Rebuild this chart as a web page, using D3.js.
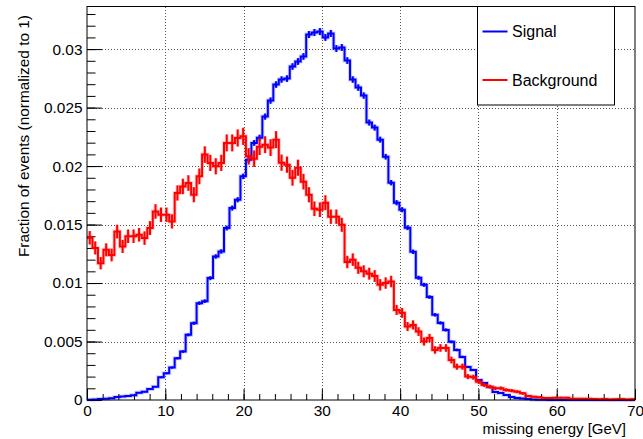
<!DOCTYPE html>
<html>
<head>
<meta charset="utf-8">
<script src="https://cdn.jsdelivr.net/npm/d3@7"></script>
<style>
  body { margin: 0; background: #fff; }
  svg { display: block; font-family: "Liberation Sans", Arial, Helvetica, sans-serif; }
</style>
</head>
<body>
<svg id="chart" width="643" height="439"></svg>
<script>
// histogram range (GeV) and bin count
const xRange = [0, 70];
const nBins = 100;

// bin contents, fraction of events per 0.7 GeV bin
const signal = [
  0.00003, 0.00005, 0.00008, 0.0001, 0.00015, 0.00025, 0.0003, 0.00034, 0.0004, 0.00062,
  0.0007, 0.00094, 0.00114, 0.00194, 0.00228, 0.00277, 0.00357, 0.00414, 0.00557, 0.00657,
  0.00828, 0.00845, 0.01042, 0.01227, 0.0127, 0.0147, 0.01641, 0.01712, 0.01912, 0.02055,
  0.02198, 0.02243, 0.02423, 0.0256, 0.02697, 0.0274, 0.02748, 0.02851, 0.02894, 0.02937,
  0.03125, 0.03142, 0.0315, 0.031, 0.03134, 0.03005, 0.03014, 0.02902, 0.0274, 0.02671,
  0.02603, 0.02372, 0.02329, 0.02226, 0.0208, 0.01858, 0.01687, 0.01627, 0.01473, 0.01267,
  0.01045, 0.00985, 0.0088, 0.00728, 0.00659, 0.00599, 0.00497, 0.00428, 0.00368, 0.00283,
  0.00257, 0.00171, 0.00146, 0.00111, 0.00068, 0.0006, 0.00043, 0.00026, 0.00017, 0.00013,
  0.00008, 0.00005, 0.00003, 0.00002, 0.00001, 0, 0, 0, 0, 0,
  0, 0, 0, 0, 0, 0, 0, 0, 0, 0,
];
const background = [
  0.01387, 0.013, 0.0117, 0.01284, 0.0124, 0.0144, 0.01313, 0.014, 0.014, 0.01413,
  0.01384, 0.0147, 0.01612, 0.01584, 0.01584, 0.01527, 0.0177, 0.01826, 0.01855, 0.01755,
  0.01912, 0.02098, 0.02027, 0.01998, 0.02027, 0.02198, 0.02198, 0.0224, 0.02254, 0.02083,
  0.02063, 0.02166, 0.02183, 0.02158, 0.02226, 0.02029, 0.02012, 0.019, 0.01986, 0.01867,
  0.01755, 0.01635, 0.01627, 0.01687, 0.01567, 0.01567, 0.01498, 0.0118, 0.012, 0.0113,
  0.011, 0.0108, 0.0106, 0.00985, 0.01, 0.01013, 0.0077, 0.00745, 0.00628, 0.00642,
  0.00585, 0.005, 0.0053, 0.00428, 0.00445, 0.00445, 0.00342, 0.00285, 0.00285, 0.002,
  0.00195, 0.00157, 0.00128, 0.00114, 0.001, 0.001, 0.00086, 0.0008, 0.00071, 0.00057,
  0.00034, 0.00028, 0.00023, 0.00017, 0.00017, 0.0002, 0.0002, 0.0002, 0.00011, 0.00011,
  0.00011, 0.00011, 0.00008, 0.00006, 0.00008, 0.00005, 0.00006, 0.00008, 0.00005, 0.00006,
];
// raw event counts behind each histogram (sets the Poisson error bars)
const signalEvents = 350000;
const backgroundEvents = 42000;

const seriesNames = ["Signal", "Background"];
const xTickValues = [0, 10, 20, 30, 40, 50, 60, 70];
const yTickValues = [0, 0.005, 0.01, 0.015, 0.02, 0.025, 0.03];
const yTickLabels = ["0", "0.005", "0.01", "0.015", "0.02", "0.025", "0.03"];
const xTitle = "missing energy [GeV]";
const yTitle = "Fraction of events (normalized to 1)";

const W = 643, H = 439;
const margin = { top: 7, right: 8, bottom: 39, left: 87 };
const fontSize = 15.4;

const x = d3.scaleLinear(xRange, [margin.left, W - margin.right]);
const y = d3.scaleLinear([0, 0.0336], [H - margin.bottom, margin.top]);

const svg = d3.select("#chart");
const binW = (xRange[1] - xRange[0]) / nBins;

// grid
const grid = svg.append("g").attr("stroke", "#555").attr("stroke-width", 1)
  .attr("stroke-dasharray", "1,2");
grid.selectAll("line.gx")
  .data(xTickValues.filter((d) => d > xRange[0] && d < xRange[1]))
  .join("line")
  .attr("x1", (d) => Math.round(x(d)) + 0.5)
  .attr("x2", (d) => Math.round(x(d)) + 0.5)
  .attr("y1", y.range()[1])
  .attr("y2", y.range()[0]);
grid.selectAll("line.gy")
  .data(yTickValues.filter((d) => d > 0))
  .join("line")
  .attr("class", "gy")
  .attr("x1", x.range()[0])
  .attr("x2", x.range()[1])
  .attr("y1", (d) => Math.round(y(d)) + 0.5)
  .attr("y2", (d) => Math.round(y(d)) + 0.5);

// minor ticks
svg.append("g")
  .attr("transform", `translate(${margin.left},0)`)
  .call(d3.axisLeft(y).tickValues(d3.range(0, 0.0335, 0.001)).tickSize(-8.5).tickFormat(""))
  .call((g) => g.select(".domain").remove());
svg.append("g")
  .attr("transform", `translate(0,${H - margin.bottom})`)
  .call(d3.axisBottom(x).tickValues(d3.range(0, 70.1, 2)).tickSize(-6).tickFormat(""))
  .call((g) => g.select(".domain").remove());

// major ticks with labels
svg.append("g")
  .attr("transform", `translate(${margin.left},0)`)
  .call(d3.axisLeft(y).tickValues(yTickValues).tickSize(-15).tickPadding(4.5)
    .tickFormat((d, i) => yTickLabels[i]))
  .call((g) => g.select(".domain").remove())
  .call((g) => g.selectAll("text").attr("font-size", fontSize).attr("fill", "#000")
    .attr("font-family", "Liberation Sans, Arial, sans-serif"));
svg.append("g")
  .attr("transform", `translate(0,${H - margin.bottom})`)
  .call(d3.axisBottom(x).tickValues(xTickValues).tickSize(-11).tickPadding(5))
  .call((g) => g.select(".domain").remove())
  .call((g) => g.selectAll("text").attr("font-size", fontSize).attr("fill", "#000")
    .attr("font-family", "Liberation Sans, Arial, sans-serif"));

// histograms
const step = d3.line().curve(d3.curveStepAfter).x((d) => x(d[0])).y((d) => y(d[1]));
const drawHist = (values, nEvents, color) => {
  const pts = values.map((v, i) => [xRange[0] + i * binW, v]);
  pts.push([xRange[1], values[values.length - 1]]);
  const g = svg.append("g").attr("fill", "none").attr("stroke", color);
  // soft halo under the line
  g.append("path").attr("d", step(pts)).attr("stroke-width", 4).attr("stroke-opacity", 0.18);
  const bars = values
    .map((v, i) => ({ v, c: xRange[0] + (i + 0.5) * binW, e: Math.sqrt(v / nEvents) }))
    .filter((d) => d.v > 0);
  g.selectAll("line.halo").data(bars).join("line").attr("class", "halo")
    .attr("x1", (d) => x(d.c)).attr("x2", (d) => x(d.c))
    .attr("y1", (d) => y(d.v - d.e)).attr("y2", (d) => y(d.v + d.e))
    .attr("stroke-width", 4).attr("stroke-opacity", 0.18);
  g.append("path").attr("d", step(pts)).attr("stroke-width", 2);
  g.selectAll("line.err").data(bars).join("line").attr("class", "err")
    .attr("x1", (d) => x(d.c)).attr("x2", (d) => x(d.c))
    .attr("y1", (d) => y(d.v - d.e)).attr("y2", (d) => y(d.v + d.e))
    .attr("stroke-width", 2);
};
drawHist(signal, signalEvents, "#0000ff");
drawHist(background, backgroundEvents, "#ff0000");

// frame
svg.append("rect")
  .attr("x", x.range()[0]).attr("y", y.range()[1] - 0.5)
  .attr("width", x.range()[1] - x.range()[0])
  .attr("height", y.range()[0] - y.range()[1] + 0.5)
  .attr("fill", "none").attr("stroke", "#000").attr("stroke-width", 1);

// axis titles
svg.append("text")
  .attr("x", 626).attr("y", 434)
  .attr("text-anchor", "end").attr("font-size", 15)
  .text(xTitle);
svg.append("text")
  .attr("transform", `translate(29,${margin.top + 8}) rotate(-90)`)
  .attr("text-anchor", "end").attr("font-size", fontSize)
  .text(yTitle);

// legend
const legend = svg.append("g").attr("transform", "translate(477.5,6.5)");
legend.append("rect").attr("width", 137).attr("height", 98.5)
  .attr("fill", "#fff").attr("stroke", "#000").attr("stroke-width", 1);
const legendColors = ["#0000ff", "#ff0000"];
seriesNames.forEach((name, i) => {
  const ly = 25 + i * 48.5;
  legend.append("line").attr("x1", 5).attr("x2", 30).attr("y1", ly).attr("y2", ly)
    .attr("stroke", legendColors[i]).attr("stroke-width", 2);
  legend.append("text").attr("x", 34.5).attr("y", ly).attr("dy", "0.36em")
    .attr("font-size", 16).text(name);
});
</script>
</body>
</html>
